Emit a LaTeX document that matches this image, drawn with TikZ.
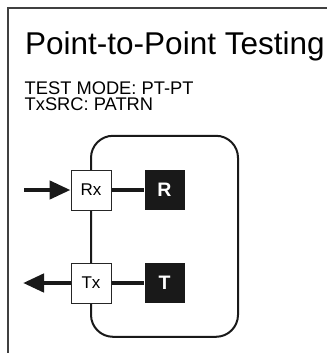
\documentclass[tikz,border=0pt]{standalone}
\usepackage{fontspec}
\setmainfont{Liberation Sans}
\usetikzlibrary{arrows.meta}
\begin{document}
\begin{tikzpicture}[x=1pt,y=-1pt,
  label text/.style={anchor=base west,inner sep=0pt},
  port/.style={draw=black!85,line width=1pt,fill=white,minimum size=40pt,inner sep=0pt,font=\fontsize{17}{18}\selectfont},
  blk/.style={fill=black!90,minimum size=40pt,inner sep=0pt,text=white,font=\fontsize{19.5}{20}\selectfont\bfseries},
  thick link/.style={line width=4.5pt,black!90},
  sig/.style={line width=4.5pt,black!90,-{Triangle[length=21pt,width=18pt]}}]
\useasboundingbox (0,0) rectangle (327,353);
% frame
\draw[line width=1.5pt,black!75] (8,353) -- (8,8) -- (327,8);
% texts
\node[label text,font=\fontsize{31.5}{34}\selectfont] (title) at (25,54.3) {Point-to-Point Testing};
\node[label text,font=\fontsize{18.3}{20}\selectfont] (mode) at (24.5,94) {TEST MODE: PT-PT};
\node[label text,font=\fontsize{18.3}{20}\selectfont] (src) at (24.5,110.8) {TxSRC: PATRN};
% unit outline
\node[draw=black!90,line width=2pt,rounded corners=22pt,minimum width=147pt,minimum height=201pt,inner sep=0pt] (unit) at (164.5,236.3) {};
% boxes
\node[port] (rx) at (91,190) {Rx};
\node[port] (tx) at (91,283) {Tx};
\node[blk] (r) at (164.5,190) {R};
\node[blk] (t) at (164.5,283) {T};
\draw[line width=2pt,black!90] (rx) -- (tx);
\draw[thick link] (rx) -- (r);
\draw[thick link] (tx) -- (t);
\coordinate (inp) at (24,190);
\coordinate (outp) at (23,283);
\draw[sig] (inp) -- (rx.west);
\draw[sig] (tx.west) -- (outp);
\end{tikzpicture}
\end{document}
